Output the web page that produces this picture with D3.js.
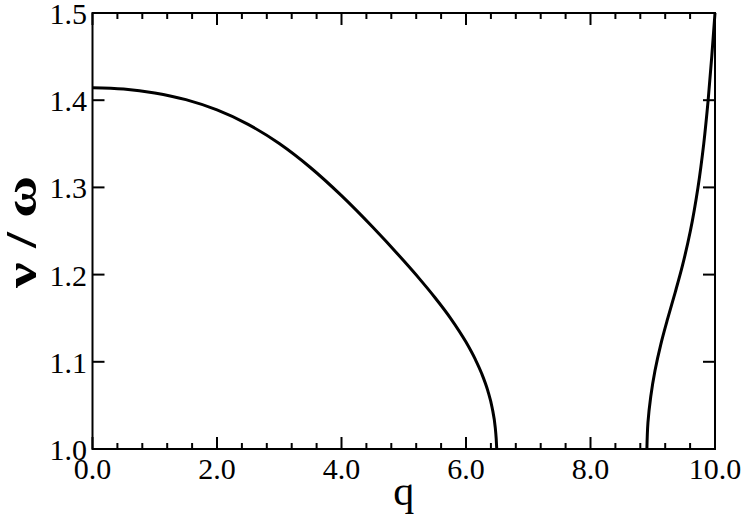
<!DOCTYPE html>
<html>
<head>
<meta charset="utf-8">
<script src="https://cdn.jsdelivr.net/npm/d3@7"></script>
<style>
  html, body { margin: 0; padding: 0; background: #fff; }
  svg { display: block; }
  text { font-family: "Liberation Serif", "Times New Roman", serif; fill: #000; }
</style>
</head>
<body>
<svg id="chart" width="747" height="523"></svg>
<script>
// ---- data ----
const branch1Q = [0, 0.5, 1.0, 1.5, 2.0, 2.5, 3.0, 3.5, 4.0, 4.5, 5.0, 5.25, 5.5, 5.75, 6.0, 6.15, 6.25, 6.35, 6.42, 6.47, 6.485, 6.494];
const branch1V = [1.4143, 1.4128, 1.4083, 1.4006, 1.3888, 1.3723, 1.3503, 1.3228, 1.2905, 1.2545, 1.2158, 1.1954, 1.1738, 1.1502, 1.1226, 1.1027, 1.0869, 1.0669, 1.0474, 1.0245, 1.012, 1.0];
const branch2Q = [8.906, 8.9225, 8.9675, 9.0365, 9.1295, 9.242, 9.362, 9.476, 9.604, 9.7265, 9.819, 9.890, 9.948, 10.0];
const branch2V = [1.0, 1.03, 1.06, 1.09, 1.12, 1.15, 1.18, 1.21, 1.25, 1.30, 1.35, 1.40, 1.45, 1.5];
const xMajorTicks = [0, 2, 4, 6, 8, 10];
const xTickLabels = ["0.0", "2.0", "4.0", "6.0", "8.0", "10.0"];
const yMajorTicks = [1.0, 1.1, 1.2, 1.3, 1.4, 1.5];
const yTickLabels = ["1.0", "1.1", "1.2", "1.3", "1.4", "1.5"];
const xTitle = "q";
const yTitle = "ν / ω";

// ---- layout ----
const L = 92.5, R = 715, T = 13, B = 449;
const svg = d3.select("#chart");
const x = d3.scaleLinear().domain([0, 10]).range([L, R]);
const y = d3.scaleLinear().domain([1.0, 1.5]).range([B, T]);

const xMinor = d3.range(0, 10.0001, 0.4).map(v => +v.toFixed(3)).filter(v => !xMajorTicks.some(m => Math.abs(m - v) < 1e-6));

const majorLen = 12, minorLen = 6;
const g = svg.append("g");

function tickLines(vals, len, orient) {
  vals.forEach(v => {
    let x1, y1, x2, y2;
    if (orient === "bottom") { x1 = x2 = x(v); y1 = B; y2 = B - len; }
    if (orient === "top") { x1 = x2 = x(v); y1 = T; y2 = T + len; }
    if (orient === "left") { y1 = y2 = y(v); x1 = L; x2 = L + len; }
    if (orient === "right") { y1 = y2 = y(v); x1 = R; x2 = R - len; }
    g.append("line").attr("x1", x1).attr("y1", y1).attr("x2", x2).attr("y2", y2)
      .attr("stroke", "#000").attr("stroke-width", 2);
  });
}
tickLines(xMajorTicks, majorLen, "bottom");
tickLines(xMinor, minorLen, "bottom");
tickLines(xMajorTicks, majorLen, "top");
tickLines(xMinor, minorLen, "top");
tickLines(yMajorTicks, majorLen, "left");
tickLines(yMajorTicks, majorLen, "right");

// frame
g.append("rect").attr("x", L).attr("y", T).attr("width", R - L).attr("height", B - T)
  .attr("fill", "none").attr("stroke", "#000").attr("stroke-width", 2);

// tick labels
xMajorTicks.forEach((v, i) => {
  g.append("text").attr("x", x(v)).attr("y", 479).attr("text-anchor", "middle")
    .attr("font-size", 30).text(xTickLabels[i]);
});
yMajorTicks.forEach((v, i) => {
  g.append("text").attr("x", 87).attr("y", y(v) + 11).attr("text-anchor", "end")
    .attr("font-size", 30).text(yTickLabels[i]);
});

// curves
const line1 = d3.line().x(d => x(d[0])).y(d => y(d[1])).curve(d3.curveMonotoneX);
const line2 = d3.line().x(d => x(d[0])).y(d => y(d[1])).curve(d3.curveMonotoneY);
const d1 = branch1Q.map((q, i) => [q, branch1V[i]]);
const d2 = branch2Q.map((q, i) => [q, branch2V[i]]);
g.append("path").attr("d", line1(d1)).attr("fill", "none").attr("stroke", "#000").attr("stroke-width", 3);
g.append("path").attr("d", line2(d2)).attr("fill", "none").attr("stroke", "#000").attr("stroke-width", 3);

// axis titles
g.append("text").attr("x", (L + R) / 2).attr("y", 505).attr("text-anchor", "middle")
  .attr("font-size", 42).text(xTitle);
g.append("text").attr("transform", `translate(36, ${(T + B) / 2 + 1}) rotate(-90)`)
  .attr("text-anchor", "middle").attr("font-size", 44).attr("font-weight", "bold")
  .attr("textLength", 112).attr("lengthAdjust", "spacingAndGlyphs").text(yTitle);
</script>
</body>
</html>
